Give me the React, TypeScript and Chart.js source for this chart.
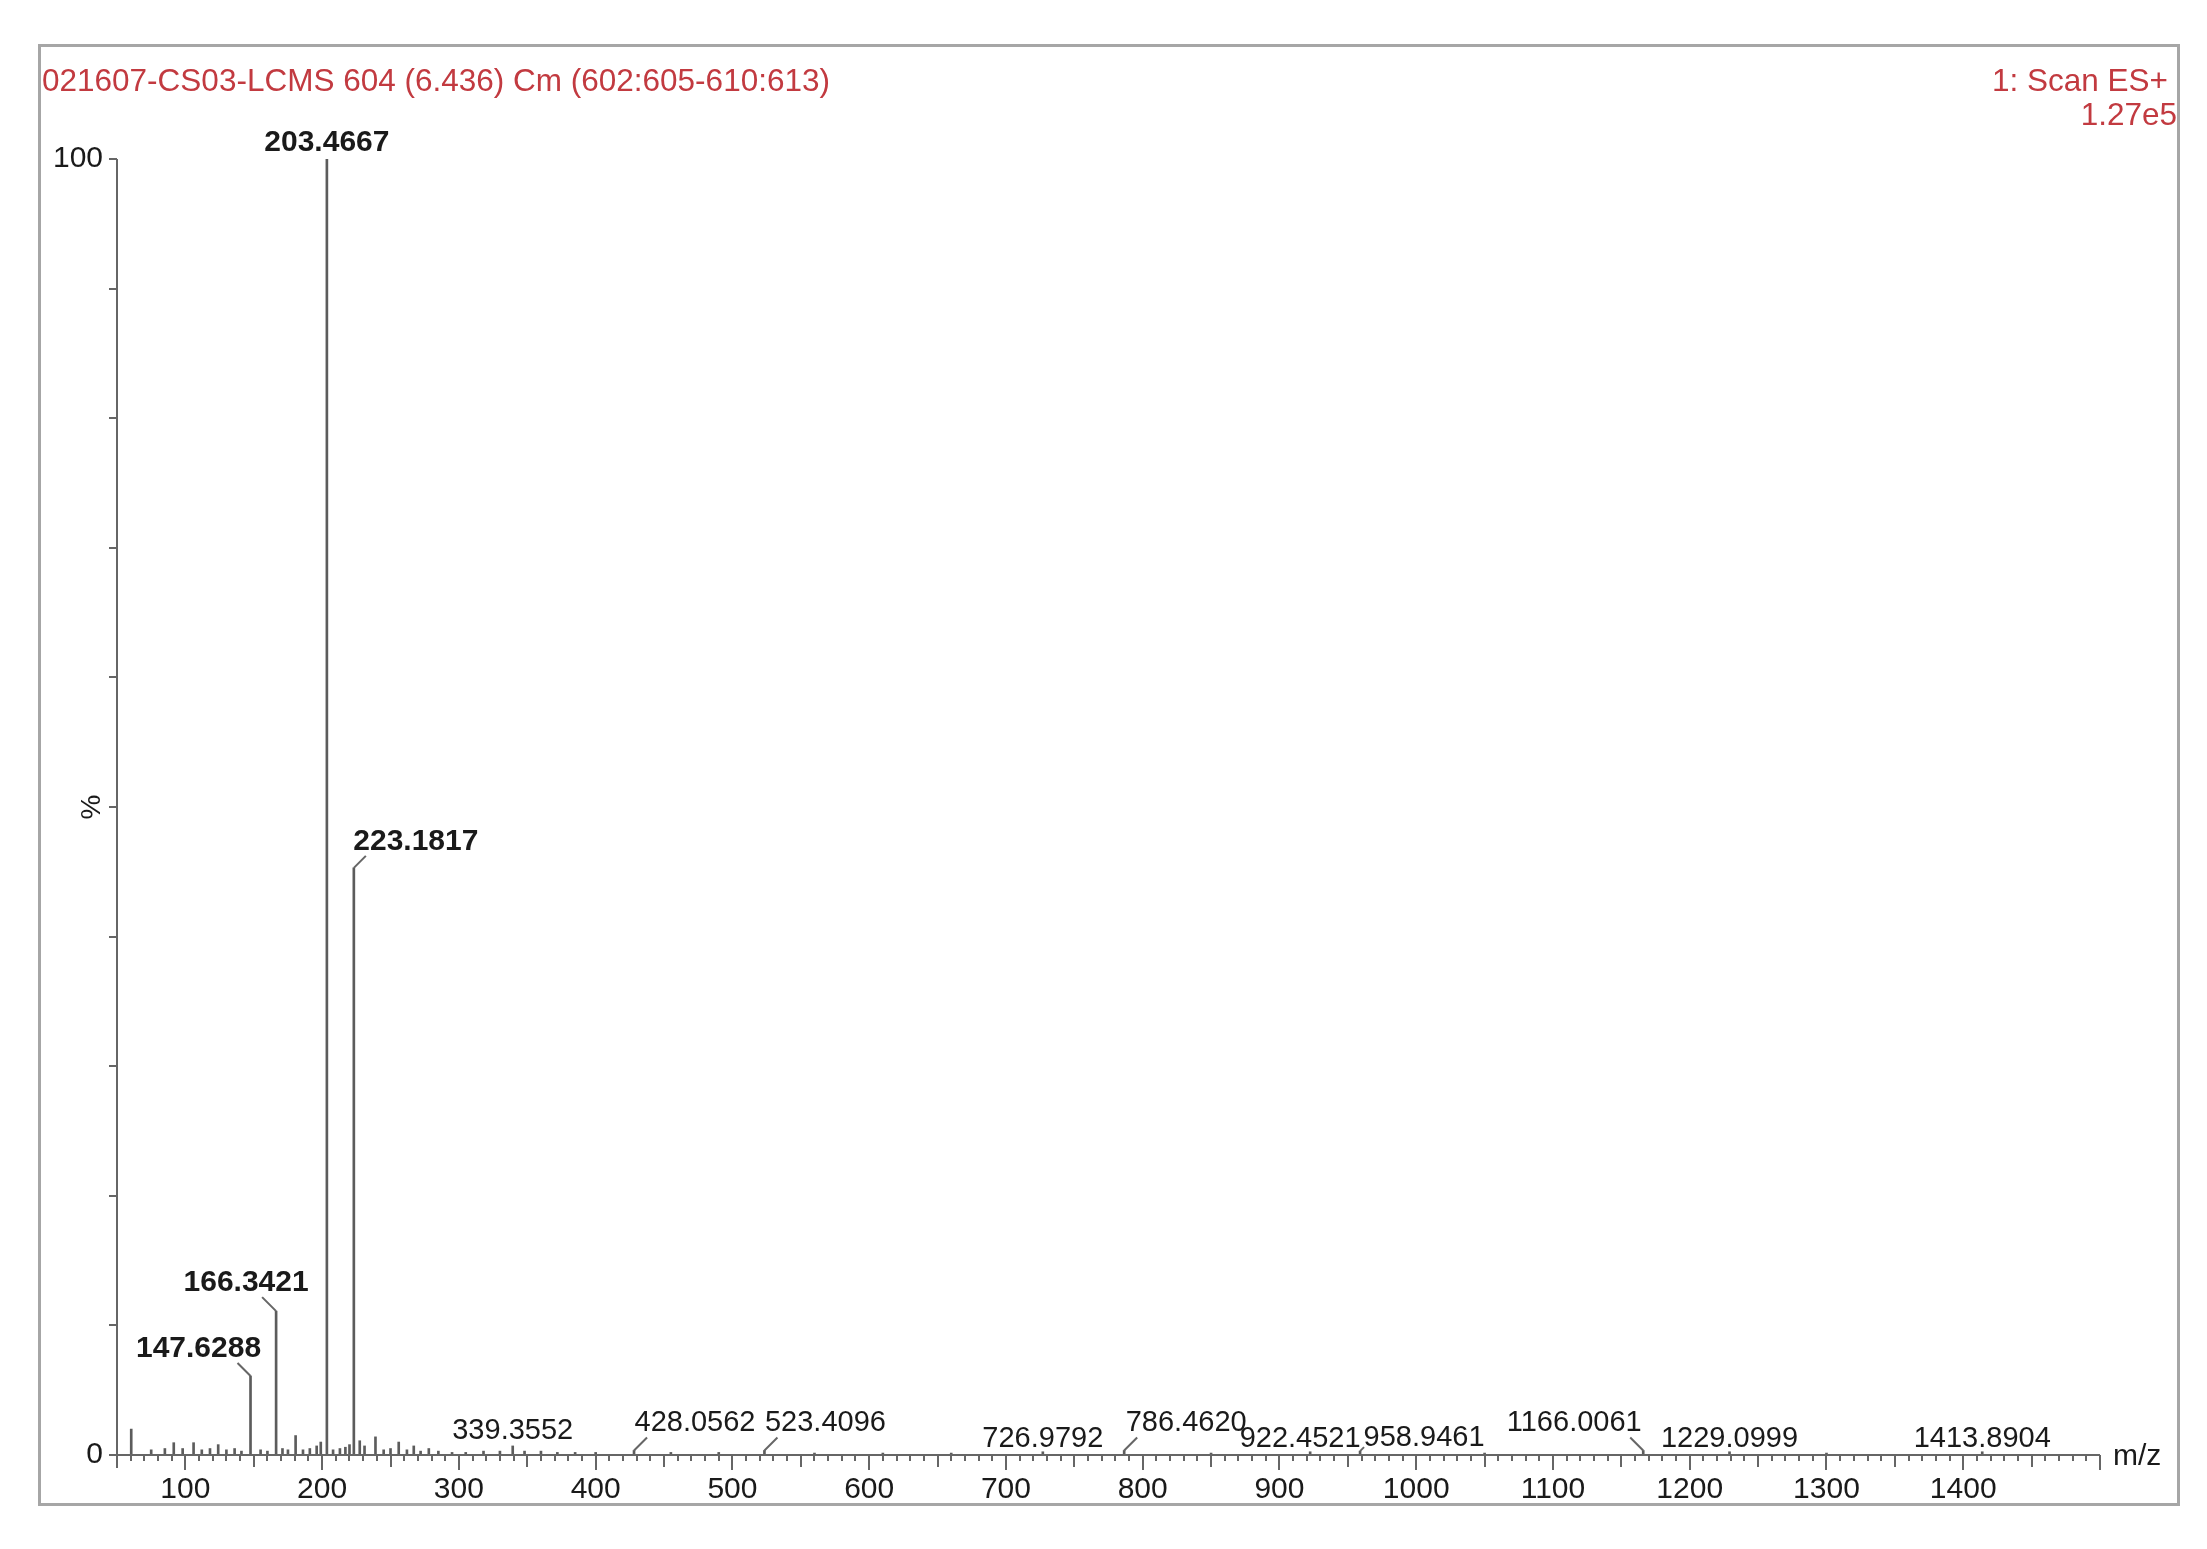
import React, { useEffect, useRef } from 'react';
import { Chart, registerables } from 'chart.js';

Chart.register(...registerables);

// ---------- text ----------
const TITLE = '021607-CS03-LCMS 604 (6.436) Cm (602:605-610:613)';
const SCAN_LABEL = '1: Scan ES+';
const INTENSITY_LABEL = '1.27e5';
const X_AXIS_LABEL = 'm/z';
const Y_AXIS_LABEL = '%';

// ---------- axes ----------
const X_MIN = 50;
const X_MAX = 1500;
const X_TICK_LABELS = [100, 200, 300, 400, 500, 600, 700, 800, 900, 1000, 1100, 1200, 1300, 1400];
const Y_MIN = 0;
const Y_MAX = 100;
const Y_TICK_LABELS = [0, 100];

// ---------- spectrum (m/z, relative intensity %) ----------
const peakMz = [
  60.4, 75, 85, 91.5, 98, 106, 112, 118, 124, 130, 136, 141, 147.6288, 155, 160,
  166.3421, 171, 175, 180.6, 186, 191, 196, 199, 203.4667, 208, 213, 217, 220,
  223.1817, 227.5, 231, 239, 245, 250, 256, 262, 267, 272, 278, 285, 295, 305,
  318, 330, 339.3552, 348, 360, 372, 385, 400, 428.0562, 455, 490, 523.4096,
  560, 610, 660, 726.9792, 786.462, 850, 922.4521, 958.9461, 1050, 1166.0061,
  1229.0999, 1300, 1413.8904,
];
const peakIntensity = [
  2.0, 0.4, 0.5, 0.95, 0.5, 0.95, 0.4, 0.5, 0.8, 0.4, 0.5, 0.3, 6.1, 0.4, 0.3,
  11.1, 0.5, 0.4, 1.5, 0.4, 0.5, 0.7, 1.0, 100, 0.4, 0.5, 0.6, 0.8,
  45.3, 1.1, 0.7, 1.4, 0.4, 0.5, 1.0, 0.4, 0.7, 0.3, 0.5, 0.3, 0.2, 0.2,
  0.3, 0.3, 0.7, 0.3, 0.3, 0.2, 0.2, 0.2, 0.35, 0.2, 0.2, 0.35,
  0.15, 0.15, 0.15, 0.25, 0.35, 0.15, 0.25, 0.3, 0.15, 0.35,
  0.25, 0.15, 0.25,
];

// peaks carrying an m/z label
const labelledMz = [
  203.4667, 223.1817, 166.3421, 147.6288, 339.3552, 428.0562, 523.4096,
  726.9792, 786.462, 922.4521, 958.9461, 1166.0061, 1229.0999, 1413.8904,
];

const FONT = "'Liberation Sans', Arial, sans-serif";
const RED = '#c23a40';
const INK = '#1a1a1a';
const AXIS = '#666666';

const decorPlugin = {
  id: 'msDecor',
  beforeDraw(chart: any) {
    const { ctx, width, height } = chart;
    ctx.save();
    ctx.fillStyle = '#ffffff';
    ctx.fillRect(0, 0, width, height);
    // outer frame
    ctx.strokeStyle = '#a6a6a6';
    ctx.lineWidth = 3;
    ctx.strokeRect(39.5, 45.5, 2139, 1459);
    // header texts
    ctx.fillStyle = RED;
    ctx.font = `31.5px ${FONT}`;
    ctx.textBaseline = 'alphabetic';
    ctx.textAlign = 'left';
    ctx.fillText(TITLE, 42, 91);
    ctx.textAlign = 'right';
    ctx.fillText(SCAN_LABEL, 2168, 91);
    ctx.fillText(INTENSITY_LABEL, 2177, 125);
    ctx.restore();
  },
  afterDatasetsDraw(chart: any, _args: any, opts: any) {
    const { ctx, chartArea, scales } = chart;
    const xs = scales.x;
    const ys = scales.y;
    const left = chartArea.left;
    const bottom = chartArea.bottom;
    ctx.save();
    ctx.strokeStyle = AXIS;
    ctx.lineWidth = 2;
    // y axis line
    ctx.beginPath();
    ctx.moveTo(left, ys.getPixelForValue(Y_MAX));
    ctx.lineTo(left, bottom + 13);
    ctx.stroke();
    // y ticks every 10 %
    for (let v = Y_MIN; v <= Y_MAX; v += 10) {
      const py = Math.round(ys.getPixelForValue(v));
      ctx.beginPath();
      ctx.moveTo(left - 8, py);
      ctx.lineTo(left, py);
      ctx.stroke();
    }
    // x baseline
    ctx.beginPath();
    ctx.moveTo(left, bottom);
    ctx.lineTo(xs.getPixelForValue(X_MAX), bottom);
    ctx.stroke();
    // x ticks: 100 long, 50 medium, 10 short
    for (let v = X_MIN; v <= X_MAX; v += 10) {
      const px = Math.round(xs.getPixelForValue(v));
      const len = v % 100 === 0 ? 15 : v % 50 === 0 ? 12 : 6;
      ctx.beginPath();
      ctx.moveTo(px, bottom);
      ctx.lineTo(px, bottom + len);
      ctx.stroke();
    }
    // axis titles
    ctx.fillStyle = INK;
    ctx.font = `30px ${FONT}`;
    ctx.textAlign = 'left';
    ctx.textBaseline = 'middle';
    ctx.fillText(X_AXIS_LABEL, xs.getPixelForValue(X_MAX) + 13, bottom + 2);
    ctx.save();
    ctx.translate(92, ys.getPixelForValue(50));
    ctx.rotate(-Math.PI / 2);
    ctx.textAlign = 'center';
    ctx.font = `28px ${FONT}`;
    ctx.fillText(Y_AXIS_LABEL, 0, 0);
    ctx.restore();

    // peak labels
    const dxs: number[] = opts.labelDx;
    const rises: number[] = opts.labelRise;
    labelledMz.forEach((mz, i) => {
      const idx = peakMz.indexOf(mz);
      const inten = peakIntensity[idx];
      const px = xs.getPixelForValue(mz);
      const top = ys.getPixelForValue(inten);
      const dx = dxs[i];
      const rise = rises[i];
      const text = mz.toFixed(4);
      ctx.font = `${inten >= 5 ? 'bold 30px' : '29px'} ${FONT}`;
      ctx.fillStyle = INK;
      ctx.textAlign = 'center';
      ctx.textBaseline = 'alphabetic';
      ctx.fillText(text, px + dx, top - rise);
      if (Math.abs(dx) > 20) {
        const l = Math.max(rise - 6, 4);
        const s = dx > 0 ? 1 : -1;
        ctx.strokeStyle = AXIS;
        ctx.lineWidth = 2;
        ctx.beginPath();
        ctx.moveTo(px, top);
        ctx.lineTo(px + s * l, top - l);
        ctx.stroke();
      }
    });
    ctx.restore();
  },
};

export default function App() {
  const ref = useRef<HTMLCanvasElement | null>(null);

  useEffect(() => {
    if (!ref.current) return;
    const chart = new Chart(ref.current, {
      type: 'bar',
      data: {
        datasets: [
          {
            data: peakMz.map((x, i) => ({ x, y: peakIntensity[i] })),
            backgroundColor: '#5c5c5c',
            borderWidth: 0,
            barThickness: 2,
            grouped: false,
          } as any,
        ],
      },
      options: {
        responsive: false,
        animation: false,
        devicePixelRatio: 1,
        layout: { padding: { top: 159, right: 107, left: 0, bottom: 0 } },
        plugins: {
          legend: { display: false },
          tooltip: { enabled: false },
          msDecor: {
            labelDx: [0, 62, -30, -52, 0, 61, 61, 0, 62, -10, 64, -69, 0, 0],
            labelRise: [8, 18, 20, 19, 7, 19, 19, 5, 19, 5, 5, 19, 5, 5],
          },
        } as any,
        scales: {
          x: {
            type: 'linear',
            min: X_MIN,
            max: X_MAX,
            offset: false,
            grid: { display: false, drawTicks: false },
            border: { display: false },
            ticks: {
              stepSize: 100,
              autoSkip: false,
              maxRotation: 0,
              padding: 17,
              color: INK,
              font: { family: FONT, size: 30 },
              callback: (v: any) => (X_TICK_LABELS.includes(Number(v)) ? String(v) : ''),
            },
            afterFit: (s: any) => {
              s.height = 94;
            },
          },
          y: {
            min: Y_MIN,
            max: Y_MAX,
            grid: { display: false, drawTicks: false },
            border: { display: false },
            ticks: {
              stepSize: 10,
              autoSkip: false,
              padding: 14,
              color: INK,
              font: { family: FONT, size: 30 },
              callback: (v: any) => (Y_TICK_LABELS.includes(Number(v)) ? String(v) : ''),
            },
            afterFit: (s: any) => {
              s.width = 117;
            },
          },
        },
      },
      plugins: [decorPlugin],
    });
    return () => chart.destroy();
  }, []);

  return (
    <div style={{ position: 'absolute', left: 0, top: 0, width: 2207, height: 1549, background: '#fff' }}>
      <canvas ref={ref} width={2207} height={1549} style={{ display: 'block' }} />
    </div>
  );
}
